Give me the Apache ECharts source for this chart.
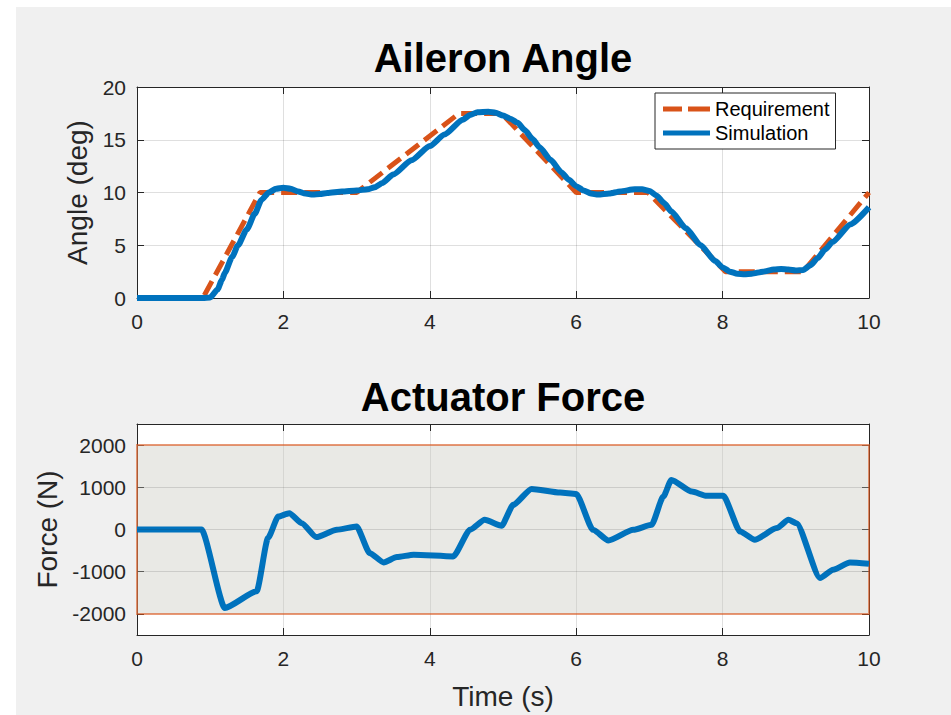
<!DOCTYPE html>
<html>
<head>
<meta charset="utf-8">
<script src="https://cdn.jsdelivr.net/npm/echarts@6/dist/echarts.min.js"></script>
<style>
html,body{margin:0;padding:0;background:#fff;}
#bg{position:absolute;left:16px;top:7px;width:935px;height:708px;background:#f0f0f0;}
#chart{position:absolute;left:0;top:0;width:951px;height:715px;}
</style>
</head>
<body>
<div id="bg"></div>
<div id="chart"></div>
<script>
// ---- data ----
const titles = ['Aileron Angle', 'Actuator Force'];
const xTicks = [0, 2, 4, 6, 8, 10];
const angleTicks = [0, 5, 10, 15, 20];
const forceTicks = [-2000, -1000, 0, 1000, 2000];
const forceRange = [-2500, 2500];
const forceLimits = [-2000, 2000];

// Requirement (deg) vs time (s)
const reqT = [0, 0.9, 1.68, 3.0, 4.4, 4.98, 6.0, 6.98, 8.04, 9.1, 10];
const reqV = [0, 0, 10, 10, 17.5, 17.5, 10, 10, 2.5, 2.5, 10];

// Simulation (deg) vs time (s)
const simT = [0, 0.9, 1.0, 1.1, 1.16, 1.2, 1.3, 1.38, 1.5, 1.61, 1.7, 1.8, 1.9, 2.0, 2.1, 2.2, 2.3, 2.4, 2.5, 2.6, 2.8, 3.0, 3.15, 3.25, 3.35, 3.5, 3.75, 4.0, 4.2, 4.45, 4.55, 4.65, 4.8, 4.9, 5.0, 5.1, 5.2, 5.3, 5.4, 5.5, 5.65, 5.8, 5.9, 6.0, 6.1, 6.2, 6.3, 6.45, 6.6, 6.8, 6.9, 7.0, 7.1, 7.2, 7.3, 7.5, 7.7, 7.9, 8.0, 8.1, 8.2, 8.3, 8.4, 8.55, 8.7, 8.8, 8.9, 9.0, 9.1, 9.2, 9.3, 9.4, 9.5, 9.75, 10.0];
const simV = [0, 0, 0.05, 0.8, 1.7, 2.4, 3.9, 5.0, 6.5, 8.0, 9.3, 10.0, 10.35, 10.45, 10.35, 10.1, 9.9, 9.8, 9.85, 9.95, 10.1, 10.2, 10.3, 10.5, 10.9, 11.7, 13.05, 14.4, 15.5, 16.9, 17.35, 17.6, 17.65, 17.55, 17.3, 17.0, 16.6, 15.9, 15.1, 14.3, 13.1, 11.9, 11.2, 10.6, 10.2, 9.9, 9.8, 9.9, 10.1, 10.3, 10.3, 10.15, 9.7, 9.0, 8.2, 6.6, 5.0, 3.5, 2.9, 2.5, 2.3, 2.25, 2.3, 2.5, 2.7, 2.75, 2.7, 2.6, 2.65, 3.1, 3.8, 4.6, 5.3, 7.0, 8.6];

// Actuator force (N) vs time (s)
const forceT = [0, 0.88, 1.20, 1.635, 1.79, 1.93, 2.08, 2.25, 2.45, 2.73, 3.0, 3.18, 3.37, 3.55, 3.78, 4.32, 4.55, 4.75, 4.98, 5.14, 5.39, 5.78, 6.0, 6.23, 6.44, 6.78, 7.03, 7.19, 7.30, 7.58, 7.78, 8.01, 8.24, 8.44, 8.74, 8.90, 9.01, 9.33, 9.51, 9.74, 10.0];
const forceV = [0, 0, -1858, -1465, -200, 307, 388, 150, -180, -7, 70, -560, -780, -653, -598, -638, -7, 230, 87, 584, 962, 875, 843, -7, -260, -7, 111, 780, 1175, 898, 797, 797, -47, -243, 33, 229, 151, -1150, -953, -780, -811];

// ---- build ----
const zip = (a, b) => a.map((v, i) => [v, b[i]]);
const FONT = 'Liberation Sans, Arial, Helvetica, sans-serif';
const AX = '#262626';
const GRIDC = 'rgba(38,38,38,0.15)';
const BLUE = '#0072BD', ORANGE = '#D95319';
const tickStyle = { show: true, inside: true, length: 7, lineStyle: { color: AX } };

function mainX(gi, withName) {
  return {
    type: 'value', gridIndex: gi, min: xTicks[0], max: xTicks[xTicks.length - 1], interval: xTicks[1] - xTicks[0],
    axisLine: { show: true, onZero: false, lineStyle: { color: AX, width: 1 } },
    axisTick: tickStyle,
    axisLabel: { color: AX, fontSize: 21, fontFamily: FONT, margin: 13, formatter: v => String(v) },
    splitLine: { show: true, lineStyle: { color: GRIDC, width: 1 } },
    name: withName ? 'Time (s)' : '', nameLocation: 'middle', nameGap: 47,
    nameTextStyle: { color: AX, fontSize: 28, fontFamily: FONT }
  };
}
function boxX(gi) {
  return {
    type: 'value', gridIndex: gi, position: 'top', min: xTicks[0], max: xTicks[xTicks.length - 1], interval: xTicks[1] - xTicks[0],
    axisLine: { show: true, onZero: false, lineStyle: { color: AX, width: 1 } },
    axisTick: tickStyle, axisLabel: { show: false }, splitLine: { show: false }
  };
}
const angleY = {
  type: 'value', gridIndex: 0, min: angleTicks[0], max: angleTicks[angleTicks.length - 1], interval: angleTicks[1] - angleTicks[0],
  axisLine: { show: true, onZero: false, lineStyle: { color: AX, width: 1 } },
  axisTick: tickStyle,
  axisLabel: { color: AX, fontSize: 21, fontFamily: FONT, margin: 11, formatter: v => String(v) },
  splitLine: { show: true, lineStyle: { color: GRIDC, width: 1 } },
  name: 'Angle (deg)', nameLocation: 'middle', nameGap: 42,
  nameTextStyle: { color: AX, fontSize: 28, fontFamily: FONT }
};
const angleBox = {
  type: 'value', gridIndex: 0, position: 'right', min: angleTicks[0], max: angleTicks[angleTicks.length - 1], interval: angleTicks[1] - angleTicks[0],
  axisLine: { show: true, onZero: false, lineStyle: { color: AX, width: 1 } },
  axisTick: tickStyle, axisLabel: { show: false }, splitLine: { show: false }
};
const forceY = {
  type: 'value', gridIndex: 1, min: forceRange[0], max: forceRange[1],
  axisLine: { show: true, onZero: false, lineStyle: { color: AX, width: 1 } },
  axisTick: Object.assign({}, tickStyle, { customValues: forceTicks }),
  axisLabel: { color: AX, fontSize: 21, fontFamily: FONT, margin: 11, customValues: forceTicks, formatter: v => String(v) },
  splitLine: { show: false },
  name: 'Force (N)', nameLocation: 'middle', nameGap: 72,
  nameTextStyle: { color: AX, fontSize: 28, fontFamily: FONT }
};
const forceBox = {
  type: 'value', gridIndex: 1, position: 'right', min: forceRange[0], max: forceRange[1],
  axisLine: { show: true, onZero: false, lineStyle: { color: AX, width: 1 } },
  axisTick: Object.assign({}, tickStyle, { customValues: forceTicks }),
  axisLabel: { show: false }, splitLine: { show: false }
};

const chart = echarts.init(document.getElementById('chart'), null, { renderer: 'svg' });
chart.setOption({
  animation: false,
  backgroundColor: 'transparent',
  textStyle: { fontFamily: FONT },
  graphic: [
    { type: 'text', x: 503, y: 58, style: { text: titles[0], fill: '#000', font: 'bold 40px ' + FONT, textAlign: 'center', textVerticalAlign: 'middle' } },
    { type: 'text', x: 503, y: 397, style: { text: titles[1], fill: '#000', font: 'bold 40px ' + FONT, textAlign: 'center', textVerticalAlign: 'middle' } }
  ],
  grid: [
    { left: 137, top: 87, width: 732, height: 211, show: true, backgroundColor: '#fff', borderWidth: 0 },
    { left: 137, top: 424, width: 732, height: 211, show: true, backgroundColor: '#fff', borderWidth: 0 }
  ],
  xAxis: [mainX(0, false), boxX(0), mainX(1, true), boxX(1)],
  yAxis: [angleY, angleBox, forceY, forceBox],
  legend: {
    data: [
      { name: 'Requirement', icon: 'path://M0,0h19v5h-19z M25,0h22v5h-22z' },
      { name: 'Simulation', icon: 'path://M0,0h47v5h-47z' }
    ],
    orient: 'vertical', left: 655, top: 93, symbolKeepAspect: false,
    backgroundColor: '#fff', borderColor: AX, borderWidth: 1, borderRadius: 0,
    padding: [6, 6, 6, 8], itemGap: 4, itemWidth: 47, itemHeight: 5, itemTextGap: 8,
    textStyle: { color: '#000', fontSize: 20, fontFamily: FONT }
  },
  series: [
    {
      name: 'Requirement', type: 'line', xAxisIndex: 0, yAxisIndex: 0, data: zip(reqT, reqV),
      symbol: 'none', lineStyle: { color: ORANGE, width: 5, type: [16, 7] }, itemStyle: { color: ORANGE }, z: 3
    },
    {
      name: 'Simulation', type: 'line', xAxisIndex: 0, yAxisIndex: 0, data: zip(simT, simV),
      symbol: 'none', smooth: 0.2, smoothMonotone: 'x', lineStyle: { color: BLUE, width: 6 }, itemStyle: { color: BLUE }, z: 4
    },
    {
      name: 'Force', type: 'line', xAxisIndex: 2, yAxisIndex: 2, data: zip(forceT, forceV),
      symbol: 'none', smooth: 0.2, smoothMonotone: 'x', lineStyle: { color: BLUE, width: 6 }, itemStyle: { color: BLUE }, z: 4,
      markArea: {
        silent: true,
        itemStyle: { color: 'rgba(200,200,190,0.4)', borderColor: 'rgba(217,83,25,0.6)', borderWidth: 2 },
        data: [[{ yAxis: forceLimits[1], xAxis: xTicks[0] }, { yAxis: forceLimits[0], xAxis: xTicks[xTicks.length - 1] }]]
      },
      markLine: {
        silent: true, symbol: 'none', animation: false,
        label: { show: false },
        lineStyle: { color: GRIDC, width: 1, type: 'solid' },
        data: forceTicks.slice(1, -1).map(v => ({ yAxis: v }))
      }
    }
  ]
});
</script>
</body>
</html>
